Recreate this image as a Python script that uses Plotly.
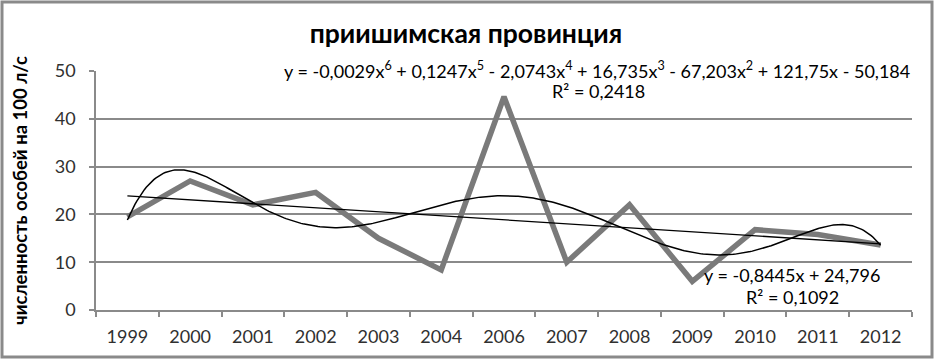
import numpy as np
import plotly.graph_objects as go

years = ["1999", "2000", "2001", "2002", "2003", "2004", "2006",
         "2007", "2008", "2009", "2010", "2011", "2012"]
counts = [19.5, 27.0, 22.0, 24.6, 15.0, 8.4, 44.6, 10.0, 22.0, 6.0, 16.8, 15.8, 13.6]
y_ticks = [0, 10, 20, 30, 40, 50]

title_text = "приишимская провинция"
y_title = "численность особей на 100 л/с"
poly_eq = ("y = -0,0029x<sup>6</sup> + 0,1247x<sup>5</sup> - 2,0743x<sup>4</sup> + 16,735x<sup>3</sup>"
           " - 67,203x<sup>2</sup> + 121,75x - 50,184")
poly_r2 = "R² = 0,2418"
lin_eq = "y = -0,8445x + 24,796"
lin_r2 = "R² = 0,1092"

x_idx = np.arange(1, len(years) + 1)
y = np.array(counts)
poly_c = np.polyfit(x_idx, y, 6)
lin_c = np.polyfit(x_idx, y, 1)
xs = np.linspace(1, len(years), 400)

W, H = 935, 359
L, R, T, B = 96, 23, 71, 49
pw, ph = W - L - R, H - T - B


def px(xp):
    return (xp - L) / pw


def py(yp):
    return (H - B - yp) / ph


FONT = "Lato"
fig = go.Figure()
fig.add_trace(go.Scatter(x=x_idx, y=y, mode="lines",
                         line=dict(color="#7a7a7a", width=5.5), hoverinfo="skip"))
fig.add_trace(go.Scatter(x=xs, y=np.polyval(poly_c, xs), mode="lines",
                         line=dict(color="#000000", width=1.5), hoverinfo="skip"))
fig.add_trace(go.Scatter(x=[1, len(years)], y=np.polyval(lin_c, [1, len(years)]), mode="lines",
                         line=dict(color="#000000", width=1.3), hoverinfo="skip"))

grid = "#8a8a8a"
fig.update_layout(
    width=W, height=H,
    margin=dict(l=L, r=R, t=T, b=B),
    paper_bgcolor="white", plot_bgcolor="white",
    showlegend=False,
    font=dict(family=FONT, color="#404040"),
    title=dict(text="<b>" + title_text + "</b>", x=466 / W, xanchor="center",
               y=1 - 34 / H, yanchor="middle",
               font=dict(family=FONT, size=26.5, color="#000000")),
    xaxis=dict(range=[0.5, len(years) + 0.5], tickmode="array", tickvals=list(x_idx),
               ticktext=years, ticks="", showgrid=False, zeroline=False,
               showline=True, linecolor=grid, linewidth=1.5,
               tickfont=dict(family=FONT, size=18, color="#303030"),
               ticklabelstandoff=10,
               minor=dict(tickmode="array", tickvals=list(np.arange(0.5, len(years) + 1, 1.0)),
                          ticks="outside", ticklen=5, tickcolor=grid, tickwidth=1.5, showgrid=False)),
    yaxis=dict(range=[0, 50], tickmode="array", tickvals=y_ticks, ticks="outside",
               ticklen=5, tickcolor=grid, tickwidth=1.5, showgrid=True, gridcolor=grid,
               gridwidth=1.5, zeroline=False, showline=True, linecolor=grid, linewidth=1.5,
               tickfont=dict(family=FONT, size=18, color="#303030"), ticklabelstandoff=10,
               title=dict(text="<b>" + y_title + "</b>", standoff=22,
                          font=dict(family=FONT, size=18.5, color="#000000"))),
    shapes=[dict(type="rect", xref="paper", yref="paper",
                 x0=px(2), x1=px(932), y0=py(357), y1=py(2),
                 line=dict(color="#8a8a8a", width=3), layer="below")],
    annotations=[
        dict(text=poly_eq, xref="paper", yref="paper", x=px(912), y=py(70),
             xanchor="right", yanchor="middle", showarrow=False,
             font=dict(family=FONT, size=18, color="#000000")),
        dict(text=poly_r2, xref="paper", yref="paper", x=px(598), y=py(91),
             xanchor="center", yanchor="middle", showarrow=False,
             font=dict(family=FONT, size=18, color="#000000")),
        dict(text=lin_eq, xref="paper", yref="paper", x=px(792), y=py(275),
             xanchor="center", yanchor="middle", showarrow=False,
             font=dict(family=FONT, size=18, color="#000000")),
        dict(text=lin_r2, xref="paper", yref="paper", x=px(792), y=py(297),
             xanchor="center", yanchor="middle", showarrow=False,
             font=dict(family=FONT, size=18, color="#000000")),
    ],
)

fig.write_html("out.html", config={"displayModeBar": False},
               post_script="document.body.style.margin='0';document.body.style.padding='0';")
